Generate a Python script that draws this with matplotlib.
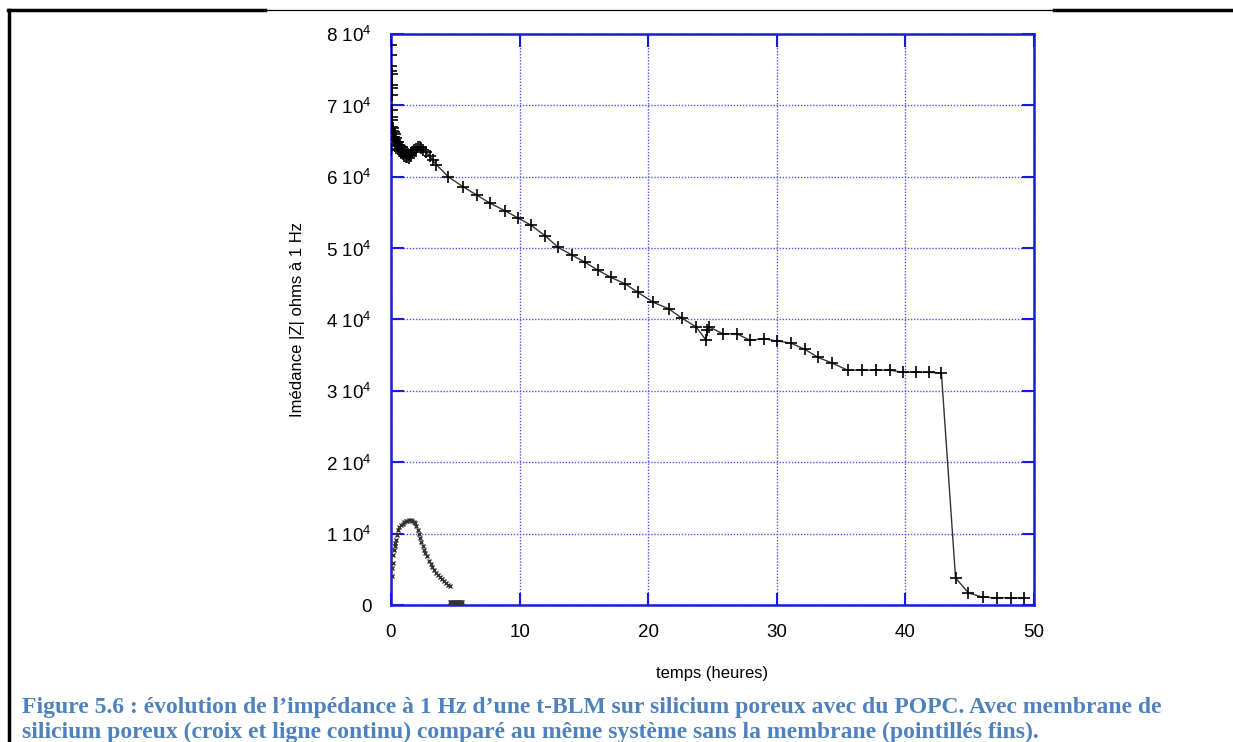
import matplotlib
matplotlib.use("Agg")
import matplotlib.pyplot as plt
from matplotlib.lines import Line2D

# ---- data: with membrane (crosses + continuous line) ----
t_main = [0.00, 0.01, 0.02, 0.03, 0.03, 0.04, 0.04, 0.05, 0.05, 0.06, 0.07, 0.08, 0.10, 0.13,
          0.17, 0.21, 0.25, 0.29, 0.33, 0.37, 0.42, 0.47, 0.52, 0.57, 0.62, 0.67, 0.73, 0.79,
          0.85, 0.91, 0.97, 1.03, 1.09, 1.15, 1.21, 1.27, 1.33, 1.39, 1.45, 1.52, 1.59, 1.67,
          1.77, 1.92, 2.07, 2.22, 2.37, 2.52, 2.75, 3.00, 3.25, 3.52,
          4.45, 5.6, 6.7, 7.7, 8.9, 9.9, 10.9, 12.0, 13.0, 14.1, 15.1, 16.1, 17.1, 18.2, 19.2,
          20.4, 21.6, 22.6, 23.7, 24.5, 24.6, 24.7, 25.8, 26.9, 27.9, 29.0, 30.0, 31.1, 32.2,
          33.2, 34.3, 35.5, 36.6, 37.7, 38.8, 39.8, 40.8, 41.8, 42.8,
          43.9, 44.9, 46.0, 47.1, 48.2, 49.2]
z_main = [63700, 78400, 77000, 75500, 74800, 74400, 72800, 72400, 71400, 69300, 68400, 67900, 67000, 66400,
          66800, 66200, 65600, 66000, 65200, 64600, 65400, 64300, 64900, 63900, 64500, 63600, 64200, 63300,
          64100, 63200, 63800, 62900, 63600, 62700, 63400, 62800, 63200, 62600, 63100, 62900, 63300, 63500,
          63700, 63900, 64100, 64200, 64000, 63800, 63400, 62900, 62300, 61700,
          60000, 58600, 57400, 56300, 55200, 54200, 53200, 51700, 50100, 49000, 48000, 46900, 45900, 45000, 43800,
          42400, 41500, 40200, 39000, 37100, 38500, 39000, 38000, 38000, 37100, 37300, 37000, 36700, 35800,
          34700, 33900, 32900, 32900, 32900, 32900, 32600, 32600, 32600, 32500,
          3800, 1700, 1100, 1000, 1000, 1000]

# ---- data: without membrane (fine dotted) ----
t_bare = [0.05, 0.10, 0.13, 0.17, 0.22, 0.28, 0.34, 0.39, 0.46, 0.56, 0.66, 0.78, 0.90, 1.02,
          1.14, 1.26, 1.40, 1.52, 1.64, 1.76, 1.87, 1.98, 2.08, 2.17, 2.25, 2.35, 2.45, 2.55,
          2.66, 2.80, 2.95, 3.08, 3.22, 3.38, 3.52, 3.66, 3.82, 3.96, 4.10, 4.25, 4.40, 4.55,
          4.62, 4.70, 4.78, 4.86, 4.94, 5.02, 5.10, 5.18, 5.26, 5.34, 5.42, 5.50]
z_bare = [4100, 5200, 5900, 7000, 7700, 8200, 8700, 9100, 9800, 10500, 10900, 11200, 11400, 11600,
          11700, 11800, 11900, 11900, 11800, 11600, 11500, 11100, 10500, 10000, 9400, 8800, 8200, 7700,
          7300, 6800, 6200, 5800, 5300, 4900, 4500, 4200, 3900, 3600, 3300, 3100, 2800, 2600,
          400, 400, 400, 400, 400, 400, 400, 400, 400, 400, 400, 400]

x_ticks = [0, 10, 20, 30, 40, 50]
y_ticks = [0, 10000, 20000, 30000, 40000, 50000, 60000, 70000, 80000]
y_labels = ["0"] + [f"{k} 10$^4$" for k in range(1, 9)]

plt.rcParams['font.family'] = ['Liberation Sans', 'DejaVu Sans']
plt.rcParams['mathtext.fontset'] = 'custom'
plt.rcParams['mathtext.rm'] = 'Liberation Sans'

fig = plt.figure(figsize=(12.33, 7.42), dpi=100)
blue = '#1a1adc'

ax = fig.add_axes([391/1233, 1-605/742, 643/1233, 571/742])
ax.plot(t_main, z_main, color='#333333', lw=1.0, marker='+', ms=8, mew=1.2, mec='black', zorder=3)
ax.plot(t_bare, z_bare, linestyle='none', marker='x', ms=3.5, mew=1.0, color='#333333', zorder=3)

ax.set_xlim(0, 50)
ax.set_ylim(0, 80000)
ax.set_xticks(x_ticks)
ax.set_xticklabels([str(v) for v in x_ticks])
ax.set_yticks(y_ticks)
ax.set_yticklabels(y_labels)
ax.tick_params(axis='both', direction='in', length=9, width=1.5, color=blue,
               labelsize=13.5, top=True, right=True)
ax.tick_params(axis='x', pad=14)
ax.tick_params(axis='y', pad=14)
for s in ax.spines.values():
    s.set_color(blue)
    s.set_linewidth(1.8)
ax.grid(True, color='#5050f0', linestyle=(0, (1, 1.2)), linewidth=1.0)
ax.set_axisbelow(True)
ax.set_xlabel("temps (heures)", fontsize=12, labelpad=18)
ax.set_ylabel("Imédance |Z| ohms à 1 Hz", fontsize=12, labelpad=15)

# page borders
fig.add_artist(Line2D([8/1233, 265/1233], [1-10/742, 1-10/742], color='black', lw=2.5))
fig.add_artist(Line2D([265/1233, 1054/1233], [1-10/742, 1-10/742], color='black', lw=0.9))
fig.add_artist(Line2D([1054/1233, 1.0], [1-10/742, 1-10/742], color='black', lw=2.5))
fig.add_artist(Line2D([9/1233, 9/1233], [0, 1-10/742], color='black', lw=2.5))

cap_color = '#4f81bd'
fig.text(22/1233, 1-713/742,
         "Figure 5.6 : évolution de l’impédance à 1 Hz d’une t-BLM sur silicium poreux avec du POPC. Avec membrane de",
         family='Liberation Serif', weight='bold', fontsize=17, color=cap_color, va='baseline', ha='left')
fig.text(22/1233, 1-738/742,
         "silicium poreux (croix et ligne continu) comparé au même système sans la membrane (pointillés fins).",
         family='Liberation Serif', weight='bold', fontsize=17, color=cap_color, va='baseline', ha='left')

fig.savefig("out.png", dpi=100)
